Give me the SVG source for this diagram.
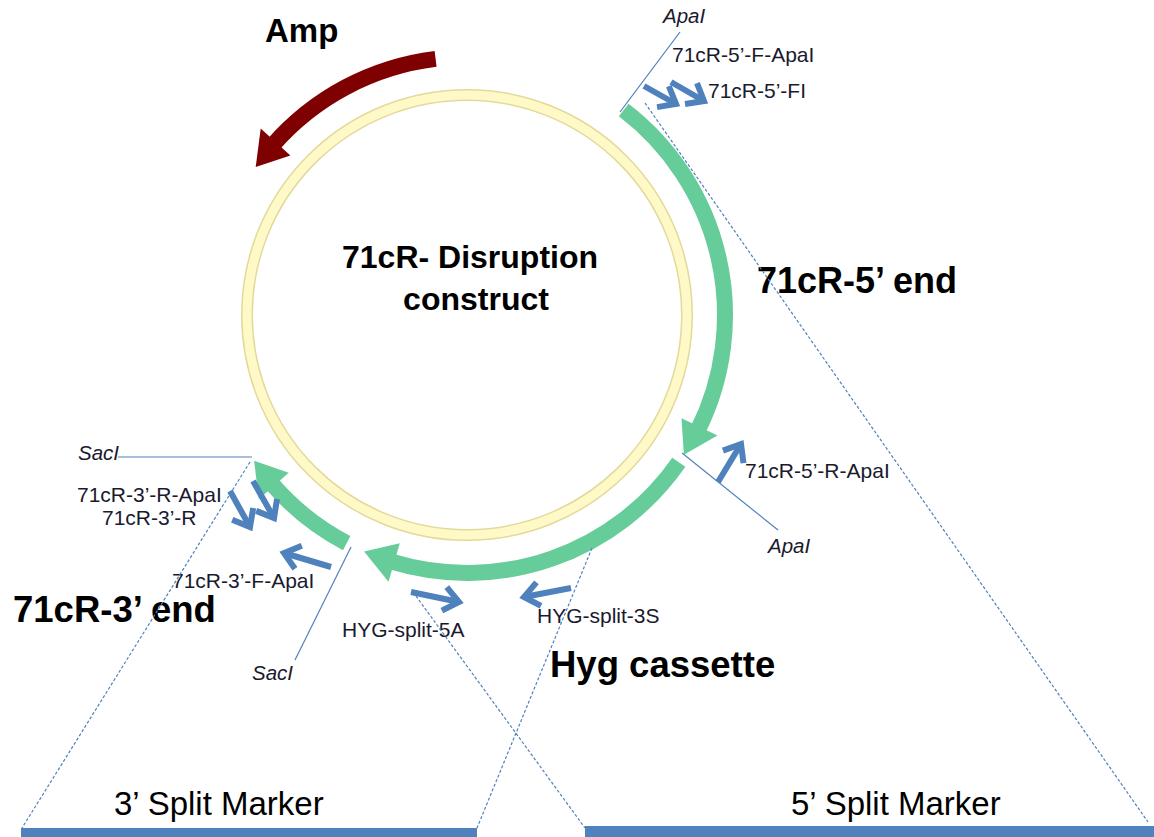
<svg xmlns="http://www.w3.org/2000/svg" width="1154" height="837" viewBox="0 0 1154 837">
<defs>
<style>
.lbl{font-family:"Liberation Sans",Arial,sans-serif;font-size:21px;fill:#1a1a2e}
.it{font-family:"Liberation Sans",Arial,sans-serif;font-size:20.5px;font-style:italic;fill:#1a1a2e}
.big{font-family:"Liberation Sans",Arial,sans-serif;font-weight:bold;fill:#000}
.mk{font-family:"Liberation Sans",Arial,sans-serif;font-size:33px;fill:#000}
.thin{stroke:#4F81BD;stroke-width:1.2;fill:none}
.dash{stroke:#4F81BD;stroke-width:1.2;fill:none;stroke-dasharray:3 2}
.band{stroke:#66CC99;stroke-width:16;fill:none}
.head{fill:#66CC99}
.primer{stroke:#4F81BD;stroke-width:6;fill:none;marker-end:url(#chev)}
</style>
<marker id="chev" markerUnits="userSpaceOnUse" viewBox="-20 -16 25 32" markerWidth="25" markerHeight="32" refX="0" refY="0" orient="auto" overflow="visible">
<path d="M-15,-12 L0,0 L-15,12" stroke="#4F81BD" stroke-width="6" fill="none"/>
</marker>
</defs>

<g id="plasmid">
<circle cx="467" cy="315" r="220" fill="#fff" stroke="#E3D99A" stroke-width="12"/>
<circle cx="467" cy="315" r="220" fill="none" stroke="#FFF9C8" stroke-width="9"/>
</g>

<g id="title">
<text class="big" x="470" y="268" font-size="32" text-anchor="middle">71cR- Disruption</text>
<text class="big" x="476" y="310" font-size="32" text-anchor="middle">construct</text>
</g>

<g id="amp">
<path d="M435.6,58.9 A258,258 0 0 0 272.3,145.7" stroke="#7F0000" stroke-width="16" fill="none"/>
<polygon points="255.7,167 260.7,128.6 290.4,155.4" fill="#7F0000"/>
<text class="big" x="265" y="42" font-size="33">Amp</text>
</g>

<g id="five-prime-end">
<path class="band" d="M623.7,110 A258,258 0 0 1 697.9,430.1"/>
<polygon class="head" points="683.9,454.8 717.5,435.6 681.5,418.2"/>
<text class="big" x="757" y="293" font-size="36">71cR-5’ end</text>
</g>

<g id="hyg-cassette">
<path class="band" d="M678.8,462.2 A258,258 0 0 1 391.6,561.7"/>
<polygon class="head" points="364.1,551.6 388.5,581.7 399.8,543.3"/>
<text class="big" x="550" y="677" font-size="36.5">Hyg cassette</text>
</g>

<g id="three-prime-end">
<path class="band" d="M346.7,543.2 A258,258 0 0 1 272.3,484.3"/>
<polygon class="head" points="254.1,460.8 258.8,499.2 288.7,472.7"/>
<text class="big" x="13" y="622" font-size="36.5">71cR-3’ end</text>
</g>

<g id="sites">
<line class="thin" x1="680" y1="32" x2="620" y2="112"/>
<text class="it" x="663" y="23">ApaI</text>
<line class="thin" x1="682" y1="453" x2="778" y2="530"/>
<text class="it" x="768" y="553">ApaI</text>
<line class="thin" x1="118" y1="457" x2="252" y2="457"/>
<text class="it" x="78" y="460">SacI</text>
<line class="thin" x1="351" y1="547" x2="295" y2="660"/>
<text class="it" x="252" y="680">SacI</text>
</g>

<g id="primers">
<path class="primer" d="M644,86 L676,104"/>
<path class="primer" d="M671,82 L704,101"/>
<text class="lbl" x="672" y="62">71cR-5’-F-ApaI</text>
<text class="lbl" x="708" y="98">71cR-5’-FI</text>
<path class="primer" d="M718,482 L741,444"/>
<text class="lbl" x="745" y="478">71cR-5’-R-ApaI</text>
<path class="primer" d="M230,491 L250,527"/>
<path class="primer" d="M253,481 L274,518"/>
<text class="lbl" x="77" y="502">71cR-3’-R-ApaI</text>
<text class="lbl" x="102" y="525">71cR-3’-R</text>
<path class="primer" d="M331,567 L284,553"/>
<text class="lbl" x="172" y="588">71cR-3’-F-ApaI</text>
<path class="primer" d="M411,592 L459,602"/>
<text class="lbl" x="342" y="637">HYG-split-5A</text>
<path class="primer" d="M571,588 L524,597"/>
<text class="lbl" x="537" y="623">HYG-split-3S</text>
</g>

<g id="connectors">
<line class="dash" x1="645" y1="103" x2="1148" y2="822"/>
<line class="dash" x1="413" y1="592" x2="585" y2="828"/>
<line class="dash" x1="250" y1="462" x2="22" y2="828"/>
<line class="dash" x1="592" y1="548" x2="477" y2="828"/>
</g>

<g id="marker-3">
<rect x="21" y="828" width="456" height="9" fill="#4F81BD"/>
<text class="mk" x="114" y="815">3’ Split Marker</text>
</g>
<g id="marker-5">
<rect x="585" y="826" width="569" height="11" fill="#4F81BD"/>
<text class="mk" x="791" y="815">5’ Split Marker</text>
</g>
</svg>
